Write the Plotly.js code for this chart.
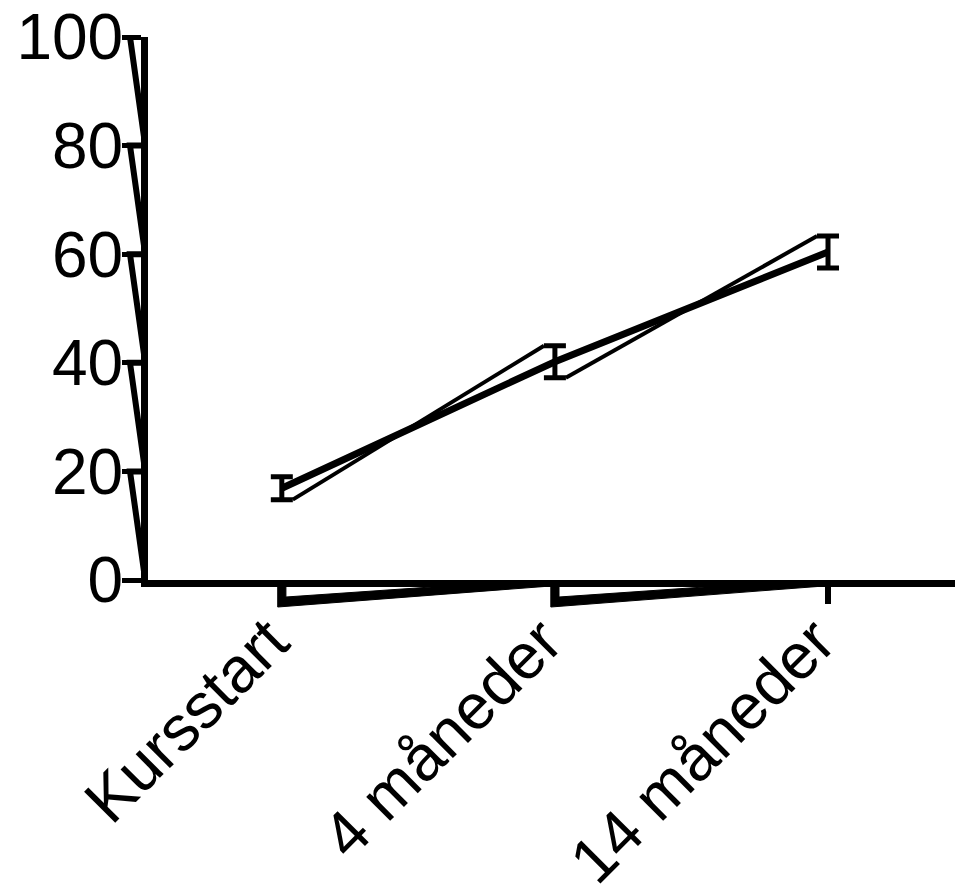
<!DOCTYPE html>
<html>
<head>
<meta charset="utf-8">
<script src="https://cdn.plot.ly/plotly-3.0.1.min.js"></script>
<style>html,body{margin:0;padding:0;background:#fff;}</style>
</head>
<body>
<div id="chart" style="width:955px;height:896px;"></div>
<script>
var categories = ['Kursstart', '4 måneder', '14 måneder'];
var means = [16.9, 40.2, 60.4];
var errors = [2.1, 2.95, 2.95];
var yTickVals = [0, 20, 40, 60, 80, 100];

var xIdx = categories.map(function (c, i) { return i; });
var capHalf = 0.04; // cap half width in x units

// thin connecting outline (lower cap right -> next upper cap left)
var zx = [], zy = [];
for (var i = 0; i < xIdx.length - 1; i++) {
  zx.push(xIdx[i] + capHalf, xIdx[i + 1] - capHalf, null);
  zy.push(means[i] - errors[i], means[i + 1] + errors[i + 1], null);
}

var traces = [
  {
    x: zx, y: zy, type: 'scatter', mode: 'lines',
    line: {color: '#000', width: 4}, hoverinfo: 'skip', showlegend: false
  },
  {
    x: xIdx, y: means, type: 'scatter', mode: 'lines',
    line: {color: '#000', width: 7},
    error_y: {type: 'data', array: errors, visible: true, color: '#000', thickness: 5, width: 11},
    showlegend: false
  }
];

var shapes = [];
// y-axis tick artifacts
for (var k = yTickVals.length - 1; k > 0; k--) {
  var yt = yTickVals[k], yn = yTickVals[k - 1];
  var yc = yn + (yt - yn) * 0.08;
  shapes.push({
    type: 'path', xref: 'paper', yref: 'y', xsizemode: 'pixel', xanchor: 0,
    path: 'M -18 ' + yt + ' L -4 ' + yt + ' L -4 ' + yc + ' Z',
    line: {color: '#000', width: 6}, fillcolor: 'rgba(0,0,0,0)', layer: 'above'
  });
}
// x-axis tick artifacts (filled wedge under the axis)
var px = 0.015;
for (var j = 0; j < xIdx.length - 1; j++) {
  var xa = xIdx[j], xb = xIdx[j + 1];
  shapes.push({
    type: 'path', xref: 'x', yref: 'paper', ysizemode: 'pixel', yanchor: 0,
    path: 'M ' + (xa - px) + ' -27 L ' + (xb - px) + ' -6 L ' + (xa + 0.6) + ' -6 L ' +
          (xa + px) + ' -17 L ' + (xa + px) + ' -6 L ' + (xa - px) + ' -6 Z',
    line: {color: '#000', width: 1}, fillcolor: '#000', layer: 'above'
  });
}

var fontFam = 'Liberation Sans, Arial, sans-serif';
var layout = {
  width: 955, height: 896,
  margin: {l: 148, r: 0, t: 37, b: 316, pad: 0},
  paper_bgcolor: '#fff', plot_bgcolor: '#fff',
  showlegend: false,
  xaxis: {
    range: [-0.49, 2.465],
    tickmode: 'array', tickvals: xIdx, ticktext: categories,
    tickangle: -45, ticks: 'outside', ticklen: 17, tickwidth: 6, tickcolor: '#000',
    ticklabelstandoff: -26, ticklabelshift: -12,
    showline: true, linewidth: 7, linecolor: '#000',
    showgrid: false, zeroline: false,
    tickfont: {family: fontFam, size: 64, color: '#000'}
  },
  yaxis: {
    range: [0, 100],
    tickmode: 'array', tickvals: yTickVals,
    ticks: 'outside', ticklen: 19, tickwidth: 5, tickcolor: '#000',
    ticklabelstandoff: -14,
    showline: true, linewidth: 7, linecolor: '#000',
    showgrid: false, zeroline: false,
    tickfont: {family: fontFam, size: 64, color: '#000'}
  },
  shapes: shapes
};

Plotly.newPlot('chart', traces, layout, {displayModeBar: false, staticPlot: true});
</script>
</body>
</html>
